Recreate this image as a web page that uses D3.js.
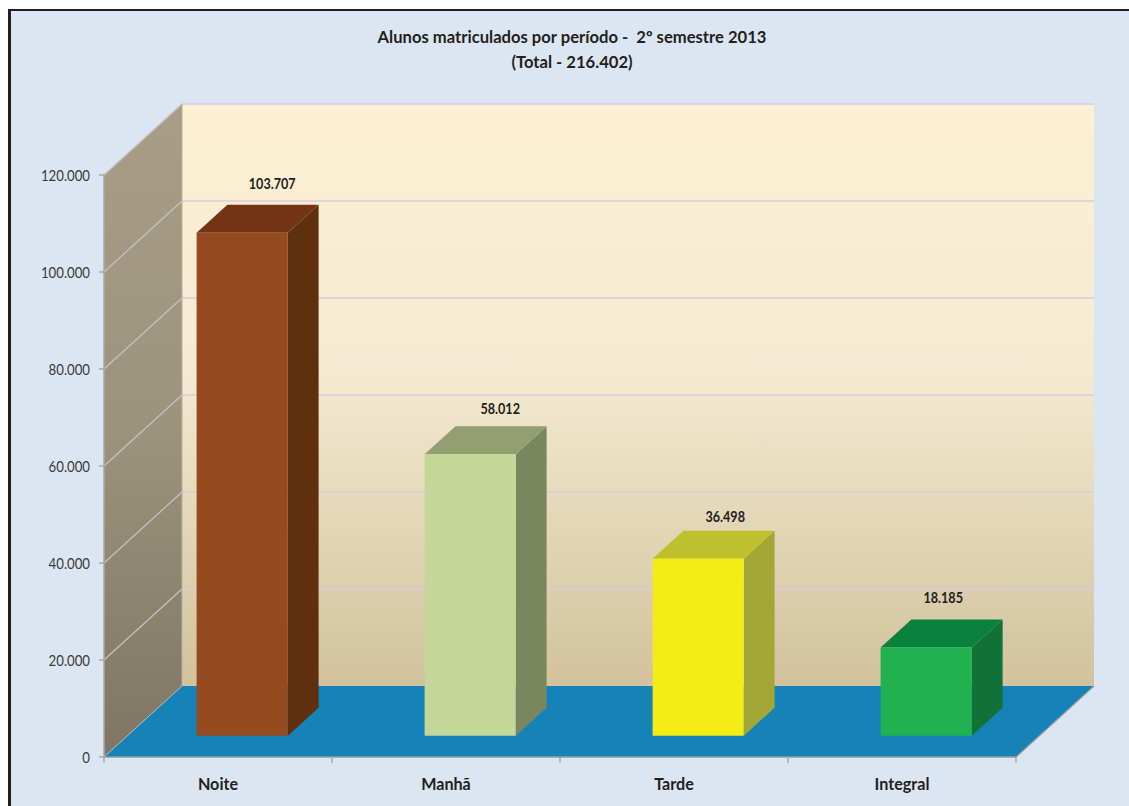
<!DOCTYPE html>
<html>
<head>
<meta charset="utf-8">
<script src="https://cdn.jsdelivr.net/npm/d3@7"></script>
<style>
html,body{margin:0;padding:0;background:#fff;overflow:hidden}
svg{display:block}
text{font-family:Lato,"Open Sans",sans-serif;fill:#231f20}
</style>
</head>
<body>
<svg id="chart" width="1129" height="806"></svg>
<script>
const categories = ["Noite", "Manhã", "Tarde", "Integral"];
const values = [103707, 58012, 36498, 18185];
const valueLabels = ["103.707", "58.012", "36.498", "18.185"];
const tickValues = [0, 20000, 40000, 60000, 80000, 100000, 120000];
const tickLabels = ["0", "20.000", "40.000", "60.000", "80.000", "100.000", "120.000"];
const titleLines = ["Alunos matriculados por período -  2º semestre 2013", "(Total - 216.402)"];
const barFront = ["#964a1f", "#c5d699", "#f4ec15", "#22b14f"];
const barTop = ["#733413", "#939f72", "#c0c02c", "#08823d"];
const barSide = ["#5f2f0e", "#7a875e", "#a3a736", "#117237"];

const W = 1129, H = 806;
const svg = d3.select("#chart");
const defs = svg.append("defs");

// plot scales (front plane) and depth offset of the 3D box
const y = d3.scaleLinear().domain([0, 120000]).range([757, 175]);
const x = d3.scaleBand().domain(categories).range([104, 1016]).paddingInner(0).paddingOuter(0);
const depthX = 78, depthY = 71;
const p = (px, val, z) => [px + z * depthX, y(val) - z * depthY];
const poly = pts => pts.map(q => q.join(",")).join(" ");
const xMin = x.range()[0], xMax = x.range()[1], yMax = 120000;

// squeeze Lato horizontally to follow the narrower face of the reference
const squeeze = (sel, f) => {
  const len = sel.node().getComputedTextLength();
  sel.attr("textLength", len * f).attr("lengthAdjust", "spacingAndGlyphs");
  return sel;
};

// gradients
const g1 = defs.append("linearGradient").attr("id", "wall").attr("x1", 0).attr("y1", 0).attr("x2", 0).attr("y2", 1);
g1.append("stop").attr("offset", "0").attr("stop-color", "#fdf0d4");
g1.append("stop").attr("offset", "0.45").attr("stop-color", "#f4ebd2");
g1.append("stop").attr("offset", "1").attr("stop-color", "#d2c29d");
const g2 = defs.append("linearGradient").attr("id", "side").attr("x1", 0).attr("y1", 0).attr("x2", 0).attr("y2", 1);
g2.append("stop").attr("offset", "0").attr("stop-color", "#a89e87");
g2.append("stop").attr("offset", "0.5").attr("stop-color", "#9c937c");
g2.append("stop").attr("offset", "1").attr("stop-color", "#7e7663");

// background and frame
svg.append("rect").attr("x", 8).attr("y", 9).attr("width", W - 8).attr("height", H - 9).attr("fill", "#231f20");
svg.append("rect").attr("x", 11).attr("y", 11).attr("width", W - 11).attr("height", H - 11).attr("fill", "#dce6f2");

// back wall
svg.append("polygon").attr("points", poly([p(xMin,0,1), p(xMax,0,1), p(xMax,yMax,1), p(xMin,yMax,1)])).attr("fill", "url(#wall)");
// side wall
svg.append("polygon").attr("points", poly([p(xMin,0,0), p(xMin,0,1), p(xMin,yMax,1), p(xMin,yMax,0)])).attr("fill", "url(#side)");
// floor
svg.append("polygon").attr("points", poly([p(xMin,0,0), p(xMax,0,0), p(xMax,0,1), p(xMin,0,1)])).attr("fill", "#1583b8");

// grid lines
tickValues.filter(t => t > 0).forEach(t => {
  const a = p(xMin, t, 0), b = p(xMin, t, 1), c = p(xMax, t, 1);
  svg.append("line").attr("x1", a[0]).attr("y1", a[1]).attr("x2", b[0]).attr("y2", b[1]).attr("stroke", "#c6c1bf").attr("stroke-width", 1.3);
  svg.append("line").attr("x1", b[0]).attr("y1", b[1]).attr("x2", c[0]).attr("y2", c[1]).attr("stroke", "#d5cee0").attr("stroke-width", 1.6);
});
// floor / wall edges
svg.append("line").attr("x1", xMin).attr("y1", y(0)).attr("x2", xMax).attr("y2", y(0)).attr("stroke", "#9a9a9a").attr("stroke-width", 1.5);
svg.append("line").attr("x1", xMax).attr("y1", y(0)).attr("x2", xMax + depthX).attr("y2", y(0) - depthY).attr("stroke", "#9a9a9a").attr("stroke-width", 1.2);
svg.append("line").attr("x1", xMin).attr("y1", y(0)).attr("x2", xMin + depthX).attr("y2", y(0) - depthY).attr("stroke", "#b5b5b5").attr("stroke-width", 1);
svg.append("line").attr("x1", xMin).attr("y1", y(0)).attr("x2", xMin).attr("y2", y(yMax)).attr("stroke", "#a9a9a9").attr("stroke-width", 1.5);
svg.append("line").attr("x1", xMin + depthX).attr("y1", y(0) - depthY).attr("x2", xMin + depthX).attr("y2", y(yMax) - depthY).attr("stroke", "#b9b19e").attr("stroke-width", 1);

// value axis
const yAxis = svg.append("g");
tickValues.forEach((t, i) => {
  yAxis.append("line").attr("x1", xMin - 5).attr("x2", xMin).attr("y1", y(t)).attr("y2", y(t)).attr("stroke", "#a9a9a9").attr("stroke-width", 1.5);
  squeeze(yAxis.append("text").attr("x", xMin - 14).attr("y", y(t) + 5.5).attr("text-anchor", "end").attr("font-size", 14.5).style("fill", "#3a3a3c").text(tickLabels[i]), 0.91);
});

// category axis
const xAxis = svg.append("g");
[...categories.map(c => x(c)), xMax].forEach(v => {
  xAxis.append("line").attr("x1", v).attr("x2", v).attr("y1", y(0)).attr("y2", y(0) + 6).attr("stroke", "#a9a9a9").attr("stroke-width", 1.5);
});
categories.forEach(c => {
  squeeze(xAxis.append("text").attr("x", x(c) + x.bandwidth() / 2).attr("y", 790).attr("text-anchor", "middle")
    .attr("font-size", 17).attr("font-weight", 700).text(c), 0.95);
});

// bars
const barWidth = x.bandwidth() * 0.4;
const barShift = 0.8;
const z0 = 0.3, z1 = 0.695;
const labelDx = [30, 30, 27, 17], labelDy = [16, 12, 9, 16];
categories.forEach((c, i) => {
  const l = x(c) + (x.bandwidth() - barWidth) / 2 + barShift, r = l + barWidth, v = values[i];
  svg.append("polygon").attr("points", poly([p(r,0,z0), p(r,0,z1), p(r,v,z1), p(r,v,z0)])).attr("fill", barSide[i]);
  svg.append("polygon").attr("points", poly([p(l,v,z0), p(r,v,z0), p(r,v,z1), p(l,v,z1)])).attr("fill", barTop[i]);
  svg.append("polygon").attr("points", poly([p(l,0,z0), p(r,0,z0), p(r,v,z0), p(l,v,z0)])).attr("fill", barFront[i]);
  const ft = p((l + r) / 2, v, z1);
  squeeze(svg.append("text").attr("x", (l + r) / 2 + z0 * depthX + labelDx[i]).attr("y", ft[1] - labelDy[i]).attr("text-anchor", "middle")
    .attr("font-size", 14.5).attr("font-weight", 700).text(valueLabels[i]), 0.87);
});

// title
titleLines.forEach((t, i) => {
  squeeze(svg.append("text").attr("x", 572).attr("y", 43 + i * 25).attr("text-anchor", "middle")
    .attr("font-size", 17).attr("font-weight", 700).style("white-space", "pre").text(t), 0.977);
});
</script>
</body>
</html>
